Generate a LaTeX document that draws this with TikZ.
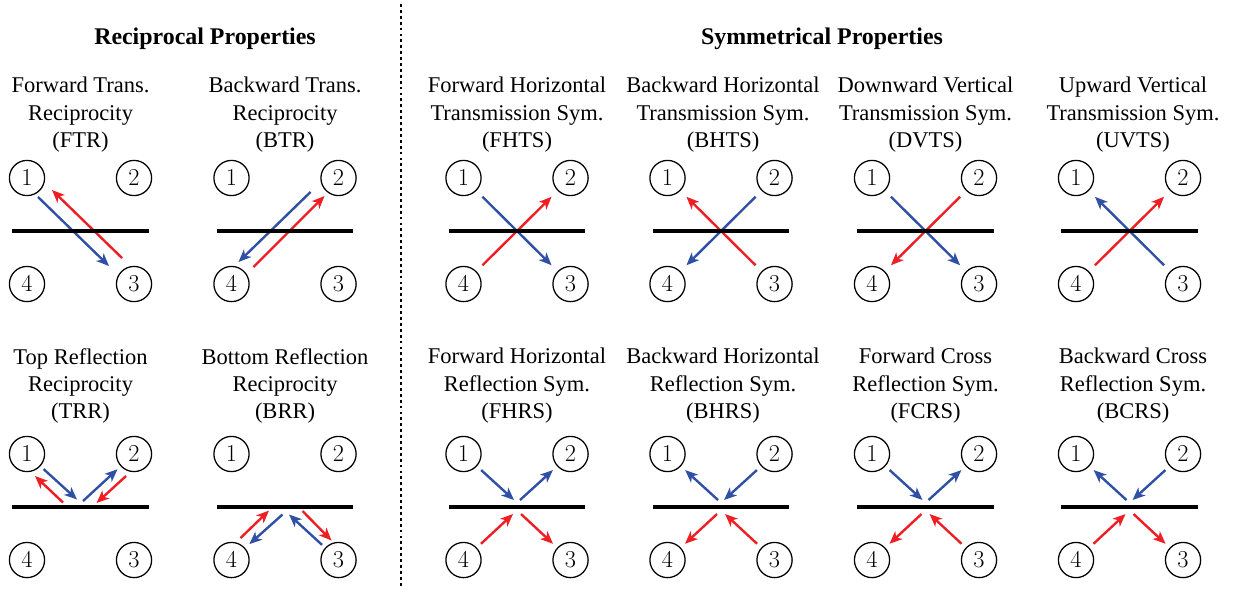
\documentclass[tikz,border=0pt]{standalone}
\usepackage[no-math]{fontspec}
\setmainfont{Liberation Serif}
\usepackage{tikz}
\usetikzlibrary{calc,positioning}
\usetikzlibrary{arrows.meta}
\definecolor{waveblue}{RGB}{48,80,165}
\definecolor{wavered}{RGB}{237,30,36}
\tikzset{
port/.style={circle, draw, line width=0.9pt, minimum size=0.88cm, inner sep=0pt, on grid, font=\fontsize{18}{18}\selectfont},
mirror_bar/.style={rectangle, fill=black, minimum width=3.42cm, minimum height=2.3pt, inner sep=0pt, outer sep=0pt},
blue_wave/.style={draw=waveblue, line width=1.7pt, -{Stealth[length=9pt,width=7.5pt,inset=2.5pt]}},
red_wave/.style={draw=wavered, line width=1.7pt, -{Stealth[length=9pt,width=7.5pt,inset=2.5pt]}},
from_port/.style={shorten <=#1}, from_port/.default=4pt,
to_port/.style={shorten >=#1}, to_port/.default=4pt,
prop_label/.style={align=center, font=\fontsize{16}{19.5}\selectfont},
head_title/.style={font=\fontsize{17}{20}\selectfont\bfseries},
divider/.style={line width=1.2pt, dash pattern=on 2pt off 2.2pt}
}

\begin{document}
\begin{tikzpicture}[x=0.025cm, y=-0.025cm]
    \useasboundingbox (0,0) rectangle (1240,591);
    \node[head_title] (recip_title) at (205,39) {Reciprocal Properties};
    \node[head_title] (sym_title) at (822,39) {Symmetrical Properties};
    \draw[divider] (401,4) -- (401,587);

    \node[prop_label] (ftr_text) at (80.5,115) {Forward Trans.\\Reciprocity\\(FTR)};
    \node[port] (ftr_1) at (27,178) {$1$};
    \node[port] (ftr_2) [right=2.675cm of ftr_1] {$2$};
    \node[port] (ftr_4) [below=2.65cm of ftr_1] {$4$};
    \node[port] (ftr_3) [right=2.675cm of ftr_4] {$3$};
    \coordinate (ftr_c) at ($(ftr_1)!0.5!(ftr_3)$);
    \draw[blue_wave] ([shift={(11,19)}]ftr_1.center) -- ([shift={(-25,-18)}]ftr_3.center);
    \draw[red_wave] ([shift={(-12,-26)}]ftr_3.center) -- ([shift={(25,12)}]ftr_1.center);
    \node[mirror_bar] (ftr_m) at (ftr_c) {};

    \node[prop_label] (btr_text) at (285,115) {Backward Trans.\\Reciprocity\\(BTR)};
    \node[port] (btr_1) at (231.5,178) {$1$};
    \node[port] (btr_2) [right=2.675cm of btr_1] {$2$};
    \node[port] (btr_4) [below=2.65cm of btr_1] {$4$};
    \node[port] (btr_3) [right=2.675cm of btr_4] {$3$};
    \coordinate (btr_c) at ($(btr_1)!0.5!(btr_3)$);
    \draw[blue_wave] ([shift={(-28,14)}]btr_2.center) -- ([shift={(7,-22)}]btr_4.center);
    \draw[red_wave] ([shift={(22,-17)}]btr_4.center) -- ([shift={(-14,18)}]btr_2.center);
    \node[mirror_bar] (btr_m) at (btr_c) {};

    \node[prop_label] (fhts_text) at (517,115) {Forward Horizontal\\Transmission Sym.\\(FHTS)};
    \node[port] (fhts_1) at (463.5,178) {$1$};
    \node[port] (fhts_2) [right=2.675cm of fhts_1] {$2$};
    \node[port] (fhts_4) [below=2.65cm of fhts_1] {$4$};
    \node[port] (fhts_3) [right=2.675cm of fhts_4] {$3$};
    \coordinate (fhts_c) at ($(fhts_1)!0.5!(fhts_3)$);
    \draw[blue_wave, from_port=6pt, to_port=6pt] (fhts_1) -- (fhts_3);
    \draw[red_wave, from_port=6pt, to_port=6pt] (fhts_4) -- (fhts_2);
    \node[mirror_bar] (fhts_m) at (fhts_c) {};

    \node[prop_label] (bhts_text) at (723,115) {Backward Horizontal\\Transmission Sym.\\(BHTS)};
    \node[port] (bhts_1) at (667.5,178) {$1$};
    \node[port] (bhts_2) [right=2.675cm of bhts_1] {$2$};
    \node[port] (bhts_4) [below=2.65cm of bhts_1] {$4$};
    \node[port] (bhts_3) [right=2.675cm of bhts_4] {$3$};
    \coordinate (bhts_c) at ($(bhts_1)!0.5!(bhts_3)$);
    \draw[red_wave, from_port=6pt, to_port=6pt] (bhts_3) -- (bhts_1);
    \draw[blue_wave, from_port=6pt, to_port=6pt] (bhts_2) -- (bhts_4);
    \node[mirror_bar] (bhts_m) at (bhts_c) {};

    \node[prop_label] (dvts_text) at (925.5,115) {Downward Vertical\\Transmission Sym.\\(DVTS)};
    \node[port] (dvts_1) at (872,178) {$1$};
    \node[port] (dvts_2) [right=2.675cm of dvts_1] {$2$};
    \node[port] (dvts_4) [below=2.65cm of dvts_1] {$4$};
    \node[port] (dvts_3) [right=2.675cm of dvts_4] {$3$};
    \coordinate (dvts_c) at ($(dvts_1)!0.5!(dvts_3)$);
    \draw[blue_wave, from_port=6pt, to_port=6pt] (dvts_1) -- (dvts_3);
    \draw[red_wave, from_port=6pt, to_port=6pt] (dvts_2) -- (dvts_4);
    \node[mirror_bar] (dvts_m) at (dvts_c) {};

    \node[prop_label] (uvts_text) at (1133,115) {Upward Vertical\\Transmission Sym.\\(UVTS)};
    \node[port] (uvts_1) at (1076,178) {$1$};
    \node[port] (uvts_2) [right=2.675cm of uvts_1] {$2$};
    \node[port] (uvts_4) [below=2.65cm of uvts_1] {$4$};
    \node[port] (uvts_3) [right=2.675cm of uvts_4] {$3$};
    \coordinate (uvts_c) at ($(uvts_1)!0.5!(uvts_3)$);
    \draw[blue_wave, from_port=6pt, to_port=6pt] (uvts_3) -- (uvts_1);
    \draw[red_wave, from_port=6pt, to_port=6pt] (uvts_4) -- (uvts_2);
    \node[mirror_bar] (uvts_m) at (uvts_c) {};

    \node[prop_label] (trr_text) at (80.5,386) {Top Reflection\\Reciprocity\\(TRR)};
    \node[port] (trr_1) at (27,454) {$1$};
    \node[port] (trr_2) [right=2.675cm of trr_1] {$2$};
    \node[port] (trr_4) [below=2.65cm of trr_1] {$4$};
    \node[port] (trr_3) [right=2.675cm of trr_4] {$3$};
    \coordinate (trr_c) at ($(trr_1)!0.5!(trr_3)$);
    \draw[blue_wave, from_port=3pt] (trr_1) -- ([shift={(-3.5,-7.5)}]trr_c);
    \draw[blue_wave, to_port=3pt] ([shift={(2.5,-6)}]trr_c) -- (trr_2);
    \draw[red_wave] ([shift={(-8,22)}]trr_2.center) -- ([shift={(16,-4)}]trr_c);
    \draw[red_wave] ([shift={(-17.5,-4.5)}]trr_c) -- ([shift={(8,22)}]trr_1.center);
    \node[mirror_bar] (trr_m) at (trr_c) {};

    \node[prop_label] (brr_text) at (285,386) {Bottom Reflection\\Reciprocity\\(BRR)};
    \node[port] (brr_1) at (231.5,454) {$1$};
    \node[port] (brr_2) [right=2.675cm of brr_1] {$2$};
    \node[port] (brr_4) [below=2.65cm of brr_1] {$4$};
    \node[port] (brr_3) [right=2.675cm of brr_4] {$3$};
    \coordinate (brr_c) at ($(brr_1)!0.5!(brr_3)$);
    \draw[red_wave] ([shift={(9,-22)}]brr_4.center) -- ([shift={(-16,3.5)}]brr_c);
    \draw[blue_wave, to_port] ([shift={(-2.5,7.5)}]brr_c) -- (brr_4);
    \draw[blue_wave, from_port=3pt] (brr_3) -- ([shift={(4,7.5)}]brr_c);
    \draw[red_wave] ([shift={(17.5,4)}]brr_c) -- ([shift={(-7,-19.5)}]brr_3.center);
    \node[mirror_bar] (brr_m) at (brr_c) {};

    \node[prop_label] (fhrs_text) at (517,386) {Forward Horizontal\\Reflection Sym.\\(FHRS)};
    \node[port] (fhrs_1) at (463.5,454) {$1$};
    \node[port] (fhrs_2) [right=2.675cm of fhrs_1] {$2$};
    \node[port] (fhrs_4) [below=2.65cm of fhrs_1] {$4$};
    \node[port] (fhrs_3) [right=2.675cm of fhrs_4] {$3$};
    \coordinate (fhrs_c) at ($(fhrs_1)!0.5!(fhrs_3)$);
    \draw[blue_wave, from_port] (fhrs_1) -- ([shift={(-3,-7)}]fhrs_c);
    \draw[blue_wave, to_port] ([shift={(3,-7)}]fhrs_c) -- (fhrs_2);
    \draw[red_wave, from_port] (fhrs_4) -- ([shift={(-4,7)}]fhrs_c);
    \draw[red_wave, to_port] ([shift={(4,7)}]fhrs_c) -- (fhrs_3);
    \node[mirror_bar] (fhrs_m) at (fhrs_c) {};

    \node[prop_label] (bhrs_text) at (723,386) {Backward Horizontal\\Reflection Sym.\\(BHRS)};
    \node[port] (bhrs_1) at (667.5,454) {$1$};
    \node[port] (bhrs_2) [right=2.675cm of bhrs_1] {$2$};
    \node[port] (bhrs_4) [below=2.65cm of bhrs_1] {$4$};
    \node[port] (bhrs_3) [right=2.675cm of bhrs_4] {$3$};
    \coordinate (bhrs_c) at ($(bhrs_1)!0.5!(bhrs_3)$);
    \draw[blue_wave, to_port] ([shift={(-3,-7)}]bhrs_c) -- (bhrs_1);
    \draw[blue_wave, from_port] (bhrs_2) -- ([shift={(3,-7)}]bhrs_c);
    \draw[red_wave, to_port] ([shift={(-4,7)}]bhrs_c) -- (bhrs_4);
    \draw[red_wave, from_port] (bhrs_3) -- ([shift={(4,7)}]bhrs_c);
    \node[mirror_bar] (bhrs_m) at (bhrs_c) {};

    \node[prop_label] (fcrs_text) at (925.5,386) {Forward Cross\\Reflection Sym.\\(FCRS)};
    \node[port] (fcrs_1) at (872,454) {$1$};
    \node[port] (fcrs_2) [right=2.675cm of fcrs_1] {$2$};
    \node[port] (fcrs_4) [below=2.65cm of fcrs_1] {$4$};
    \node[port] (fcrs_3) [right=2.675cm of fcrs_4] {$3$};
    \coordinate (fcrs_c) at ($(fcrs_1)!0.5!(fcrs_3)$);
    \draw[blue_wave, from_port] (fcrs_1) -- ([shift={(-3,-7)}]fcrs_c);
    \draw[blue_wave, to_port] ([shift={(3,-7)}]fcrs_c) -- (fcrs_2);
    \draw[red_wave, to_port] ([shift={(-4,7)}]fcrs_c) -- (fcrs_4);
    \draw[red_wave, from_port] (fcrs_3) -- ([shift={(4,7)}]fcrs_c);
    \node[mirror_bar] (fcrs_m) at (fcrs_c) {};

    \node[prop_label] (bcrs_text) at (1133,386) {Backward Cross\\Reflection Sym.\\(BCRS)};
    \node[port] (bcrs_1) at (1076,454) {$1$};
    \node[port] (bcrs_2) [right=2.675cm of bcrs_1] {$2$};
    \node[port] (bcrs_4) [below=2.65cm of bcrs_1] {$4$};
    \node[port] (bcrs_3) [right=2.675cm of bcrs_4] {$3$};
    \coordinate (bcrs_c) at ($(bcrs_1)!0.5!(bcrs_3)$);
    \draw[blue_wave, to_port] ([shift={(-3,-7)}]bcrs_c) -- (bcrs_1);
    \draw[blue_wave, from_port] (bcrs_2) -- ([shift={(3,-7)}]bcrs_c);
    \draw[red_wave, from_port] (bcrs_4) -- ([shift={(-4,7)}]bcrs_c);
    \draw[red_wave, to_port] ([shift={(4,7)}]bcrs_c) -- (bcrs_3);
    \node[mirror_bar] (bcrs_m) at (bcrs_c) {};
\end{tikzpicture}
\end{document}
